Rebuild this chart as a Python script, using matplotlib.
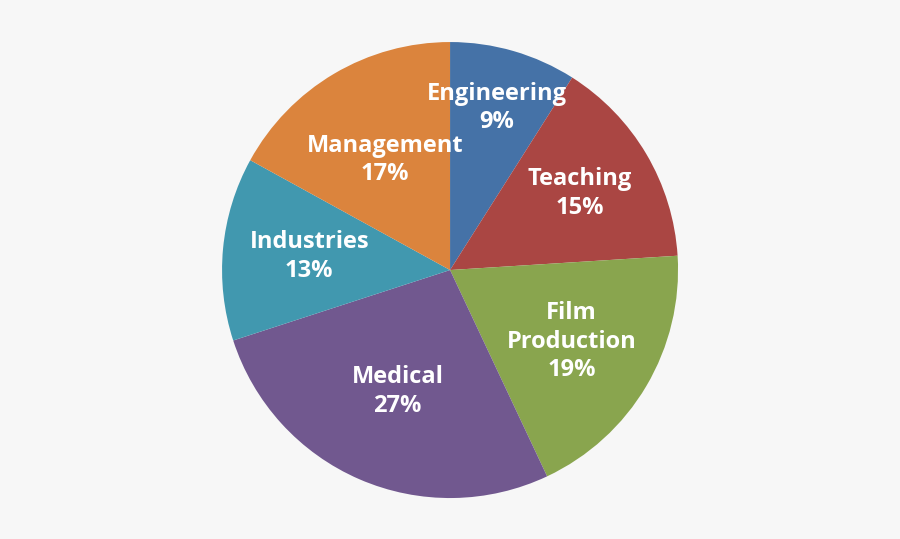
import numpy as np
import matplotlib.pyplot as plt

categories = ['Engineering', 'Teaching', 'Film\nProduction', 'Medical', 'Industries', 'Management']
shares = [9, 15, 19, 27, 13, 17]
colors = ['#4572a7', '#aa4643', '#89a54e', '#71588f', '#4198af', '#db843d']
# label distance as fraction of radius, per slice
label_r = [0.74, 0.66, 0.62, 0.58, 0.62, 0.56]

fig = plt.figure(figsize=(9, 5.39), dpi=100)
fig.patch.set_facecolor('#f7f7f7')
ax = fig.add_axes([0.5 - 0.2533, 0.499 - 0.423, 0.5067, 0.846])
wedges, _ = ax.pie(shares, colors=colors, startangle=90, counterclock=False,
                   wedgeprops=dict(linewidth=0))
ax.set_xlim(-1, 1)
ax.set_ylim(-1, 1)
ax.set_aspect('equal')

for w, cat, val, r in zip(wedges, categories, shares, label_r):
    ang = np.deg2rad((w.theta1 + w.theta2) / 2)
    ax.text(r * np.cos(ang), r * np.sin(ang), f'{cat}\n{val}%', ha='center', va='center',
            color='white', fontsize=17, fontweight='bold', family='Open Sans', linespacing=1.25)

fig.savefig('out.png', dpi=100, facecolor=fig.get_facecolor())
